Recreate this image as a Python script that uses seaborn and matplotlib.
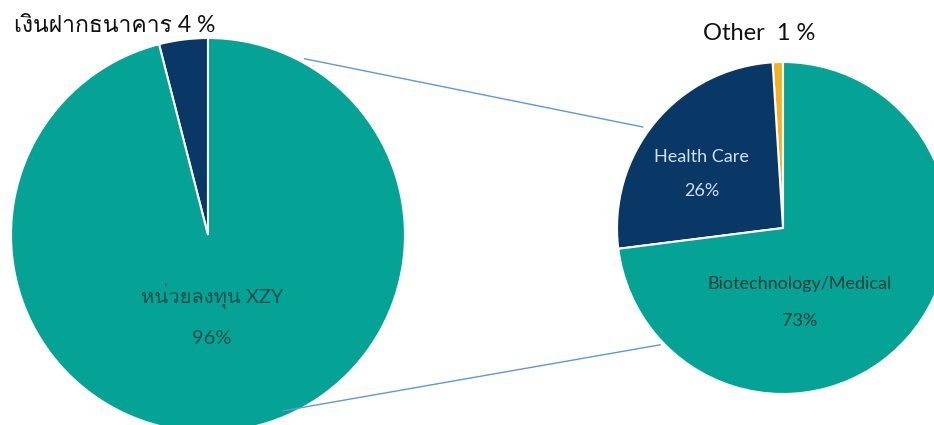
import matplotlib
matplotlib.use("Agg")
import matplotlib.pyplot as plt
from matplotlib import font_manager
from matplotlib.patches import ConnectionPatch
import numpy as np
import seaborn as sns

# ---- data ----
main_labels = ["เงินฝากธนาคาร", "หน่วยลงทุน XZY"]
main_values = [4, 96]
sub_labels = ["Other", "Health Care", "Biotechnology/Medical"]
sub_values = [1, 26, 73]

sns.set_style("white")

# find a font with Thai glyphs
thai_font = None
try:
    from fontTools.ttLib import TTFont
    for f in font_manager.fontManager.ttflist:
        try:
            tt = TTFont(f.fname, fontNumber=0, lazy=True)
            cmap = tt.getBestCmap()
            if cmap and 0x0E07 in cmap and 0x0E19 in cmap:
                thai_font = f.name
                break
        except Exception:
            continue
except Exception:
    pass
latin = ["Lato", "DejaVu Sans"]
fams = latin + ([thai_font] if thai_font else [])
plt.rcParams["font.family"] = fams

teal = "#05A396"
navy = "#0A3866"
yellow = "#F4B223"

W, H = 934, 425
fig = plt.figure(figsize=(W / 100, H / 100), dpi=100)

# left pie: center (208,235) px from top, r=197
c1x, c1y, r1 = 208, 235, 197
ax1 = fig.add_axes([(c1x - r1) / W, (H - c1y - r1) / H, 2 * r1 / W, 2 * r1 / H])
ax1.pie(main_values, colors=[navy, teal], startangle=90, counterclock=True,
        radius=1, wedgeprops=dict(edgecolor="white", linewidth=1.5))
ax1.set_xlim(-1, 1); ax1.set_ylim(-1, 1); ax1.axis("off")
ax1.text(0.02, -0.31, main_labels[1], ha="center", va="center", fontsize=14.5, color="#1F4F4A")
ax1.text(0.02, -0.525, f"{main_values[1]}%", ha="center", va="center", fontsize=14.5, color="#1F4F4A")

# right pie: center (783,228), r=166
c2x, c2y, r2 = 783, 228, 166
ax2 = fig.add_axes([(c2x - r2) / W, (H - c2y - r2) / H, 2 * r2 / W, 2 * r2 / H])
ax2.pie(sub_values, colors=[yellow, navy, teal], startangle=90, counterclock=True,
        radius=1, wedgeprops=dict(edgecolor="white", linewidth=1.5))
ax2.set_xlim(-1, 1); ax2.set_ylim(-1, 1); ax2.axis("off")
ax2.text(-0.49, 0.43, sub_labels[1], ha="center", va="center", fontsize=13, color="#CFE0F0")
ax2.text(-0.49, 0.22, f"{sub_values[1]}%", ha="center", va="center", fontsize=13, color="#CFE0F0")
ax2.text(0.10, -0.34, sub_labels[2], ha="center", va="center", fontsize=13, color="#143E3B")
ax2.text(0.10, -0.56, f"{sub_values[2]}%", ha="center", va="center", fontsize=13, color="#143E3B")

# outer labels
fig.text(115 / W, 1 - 25 / H, f"{main_labels[0]} {main_values[0]} %", ha="center", va="center",
         fontsize=16.5, color="#111111")
fig.text(759 / W, 1 - 33 / H, f"{sub_labels[0]}  {sub_values[0]} %", ha="center", va="center",
         fontsize=17, color="#111111")

# connector lines
def pt(a, r=1.0):
    t = np.deg2rad(a)
    return (r * np.cos(t), r * np.sin(t))

for a1, ra1, a2, ra2 in [(61.3, 1.02, 144.2, 1.04), (-67.0, 0.97, 223.6, 1.02)]:
    con = ConnectionPatch(xyA=pt(a1, ra1), coordsA=ax1.transData,
                          xyB=pt(a2, ra2), coordsB=ax2.transData,
                          color="#5B9BD5", linewidth=1.0)
    fig.add_artist(con)

fig.savefig("out.png", dpi=100)
